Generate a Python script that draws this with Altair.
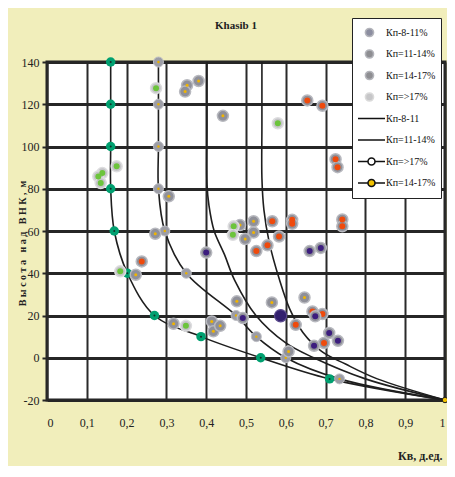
import altair as alt
import pandas as pd

# ---------------- scatter points (Kв, height) ----------------
kp8_11_x = [0.400, 0.660, 0.688, 0.492, 0.674, 0.709, 0.731, 0.671]
kp8_11_y = [49.8, 50.5, 52.0, 18.8, 19.6, 11.7, 8.0, 5.7]
kp8_11_dark_x = [0.587]
kp8_11_dark_y = [19.9]

kp11_14_x = [0.238, 0.654, 0.692, 0.725, 0.730, 0.566, 0.616, 0.616, 0.583,
             0.526, 0.554, 0.742, 0.742, 0.625, 0.667, 0.692, 0.696]
kp11_14_y = [45.6, 121.8, 119.3, 94.0, 90.2, 64.6, 65.3, 63.4, 57.4,
             50.5, 53.2, 65.5, 62.2, 15.6, 21.9, 20.7, 7.0]

kp14_17_x = [0.352, 0.347, 0.381, 0.442, 0.306, 0.272, 0.485, 0.519, 0.519, 0.498,
             0.223, 0.477, 0.565, 0.647, 0.318, 0.414, 0.418, 0.435, 0.607]
kp14_17_y = [129.0, 126.0, 131.0, 114.5, 76.4, 58.7, 62.8, 64.6, 59.3, 56.2,
             39.3, 26.7, 26.2, 28.5, 16.1, 17.2, 12.5, 15.1, 3.0]

kp17_x = [0.274, 0.175, 0.139, 0.129, 0.135, 0.469, 0.467, 0.580, 0.184, 0.349]
kp17_y = [127.6, 90.6, 87.4, 85.8, 82.7, 62.2, 58.2, 111.0, 40.9, 15.1]

# ---------------- model curves ----------------
curve_8_11_x = [0.540, 0.540, 0.540, 0.545, 0.558, 0.584, 0.610, 0.643, 0.690, 0.750, 0.830, 1.000]
curve_8_11_y = [140, 110, 85, 70, 55, 37, 23, 12, 3, -3, -10, -20]
curve_11_14_x = [0.402, 0.402, 0.402, 0.407, 0.420, 0.446, 0.471, 0.525, 0.600, 0.670, 0.800, 1.000]
curve_11_14_y = [140, 110, 82, 72, 60, 48.8, 36.9, 20, 7, 0, -10, -20]
curve_14_17_x = [0.280, 0.280, 0.280, 0.280, 0.296, 0.350, 0.475, 0.526, 0.600, 0.735, 1.000]
curve_14_17_y = [140, 120, 100, 80, 60, 40, 20, 10, 0, -10, -20]
curve_17_x = [0.160, 0.160, 0.160, 0.160, 0.169, 0.202, 0.270, 0.387, 0.537, 0.710, 1.000]
curve_17_y = [140, 120, 100, 80, 60, 40, 20, 10, 0, -10, -20]

x_ticks = [0, 0.1, 0.2, 0.3, 0.4, 0.5, 0.6, 0.7, 0.8, 0.9, 1.0]
y_ticks = [-20, 0, 20, 40, 60, 80, 100, 120, 140]

legend_labels = ["Кп-8-11%", "Кп=11-14%", "Кп=14-17%", "Кп=>17%",
                 "Кп-8-11", "Кп=11-14% ", "Кп=>17% ", "Кп=14-17% "]

SERIF = "Liberation Serif"
NB = "\u00a0"
y_title = NB.join("Высота") + NB * 3 + NB.join("над") + NB * 3 + NB.join("ВНК,") + NB * 2 + "м"

X = alt.X("x:Q", scale=alt.Scale(domain=[0, 1], nice=False, zero=False),
          axis=alt.Axis(values=x_ticks, grid=True, gridColor="#2a2a2a", gridWidth=2,
                        gridOpacity=1, domain=False, ticks=False, labelPadding=17,
                        labelFont=SERIF, labelFontSize=12, labelColor="#222",
                        labelExpr="datum.value == 0 ? '0' : datum.value == 1 ? '1' : replace(format(datum.value, '.1f'), '.', ',')",
                        title="Кв, д.ед.", titleFont=SERIF, titleFontSize=12,
                        titleFontWeight="bold", titleColor="#222", titleX=395, titleY=55,
                        titleAlign="right", titleBaseline="middle"))
Y = alt.Y("y:Q", scale=alt.Scale(domain=[-20, 140], nice=False, zero=False),
          axis=alt.Axis(values=y_ticks, grid=True, gridColor="#262626", gridWidth=3,
                        gridOpacity=1, domain=False, ticks=True, tickSize=5, tickWidth=2,
                        tickColor="#262626", labelPadding=3,
                        labelFont=SERIF, labelFontSize=12, labelColor="#222",
                        labelExpr="'' + datum.value",
                        title=y_title, titleFont=SERIF,
                        titleFontSize=10, titleFontWeight="bold", titleColor="#222",
                        titleAngle=270, titleX=-25, titleY=181, titleAlign="center",
                        titleBaseline="middle"))


def df(xs, ys):
    return pd.DataFrame({"x": xs, "y": ys})


def curve_df(xs, ys):
    return pd.DataFrame({"x": xs, "y": ys, "i": list(range(len(xs)))})


def scatter(xs, ys, halo, edge, center, csize):
    d = df(xs, ys)
    h = alt.Chart(d).mark_circle(size=121, color=halo, stroke=edge, strokeWidth=1.5,
                                 opacity=1).encode(x=X, y=Y)
    c = alt.Chart(d).mark_circle(size=csize, color=center, opacity=1).encode(x=X, y=Y)
    return [h, c]


layers = []

# curves
for cx, cy in [(curve_8_11_x, curve_8_11_y), (curve_11_14_x, curve_11_14_y),
               (curve_14_17_x, curve_14_17_y), (curve_17_x, curve_17_y)]:
    layers.append(
        alt.Chart(curve_df(cx, cy)).mark_line(color="#1e1e1e", strokeWidth=1.6,
                                               interpolate="catmull-rom").encode(
            x=X, y=Y, order=alt.Order("i:Q"))
    )

# curve markers (not on the common end point)
gray_m = curve_df(curve_14_17_x, curve_14_17_y)
green_m = curve_df(curve_17_x, curve_17_y)
layers.append(alt.Chart(gray_m).transform_filter("datum.y > -20").mark_circle(
    size=100, color="#9c9da6", stroke="#bfc0c6", strokeWidth=1, opacity=1).encode(x=X, y=Y))
layers.append(alt.Chart(gray_m).transform_filter("datum.y > -20").mark_circle(
    size=6, color="#e8b000", opacity=1).encode(x=X, y=Y))
layers.append(alt.Chart(green_m).transform_filter("datum.y > -20").mark_circle(
    size=90, color="#00a070", opacity=1).encode(x=X, y=Y))
layers.append(alt.Chart(green_m).transform_filter("datum.y > -20").mark_circle(
    size=4, color="#12302a", opacity=1).encode(x=X, y=Y))
layers.append(alt.Chart(gray_m).transform_filter("datum.y == -20").mark_circle(
    size=30, color="#f2c200", stroke="#222", strokeWidth=1, opacity=1).encode(x=X, y=Y))

# scatter
layers += scatter(kp14_17_x, kp14_17_y, "#8f9099", "#b8b9bf", "#f0b400", 9)
layers += scatter(kp17_x, kp17_y, "#c4c4c7", "#dddddf", "#6cc43c", 36)
layers += scatter(kp11_14_x, kp11_14_y, "#8f9099", "#b8b9bf", "#ef4a0c", 36)
layers += scatter(kp8_11_x, kp8_11_y, "#8f9099", "#b8b9bf", "#3c1d7e", 36)
layers.append(alt.Chart(df(kp8_11_dark_x, kp8_11_dark_y)).mark_circle(
    size=150, color="#33206e", stroke="#5a4a8c", strokeWidth=1.2, opacity=1).encode(x=X, y=Y))

# legend (built from a scale with explicit domain; no visible marks)
circ = "M0.15,0A0.3,0.3,0,1,1,-0.45,0A0.3,0.3,0,1,1,0.15,0Z"
line = "M-1,0L1,0"
line_circ = "M-1,0L-0.26,0M0.26,0A0.26,0.26,0,1,1,-0.26,0A0.26,0.26,0,1,1,0.26,0M0.26,0L1,0"
shapes = [circ, circ, circ, circ, line, line, line_circ, line_circ]
fills = ["#8c8ea0", "#8e8e92", "#8e8e92", "#c6c6c8", "transparent", "transparent", "white", "#f2c200"]
strokes = ["#b3b4ba", "#b3b4ba", "#b3b4ba", "#dadada", "#111111", "#111111", "#111111", "#111111"]

leg = alt.Legend(title=None, orient="none", legendX=305, legendY=-44, symbolSize=729,
                 clipHeight=19, rowPadding=2.5, labelFont=SERIF, labelFontSize=10,
                 labelColor="#111", fillColor="white", strokeColor="#222", padding=5,
                 labelOffset=0, symbolStrokeWidth=1.6, symbolOffset=0, labelLimit=0)

leg_df = pd.DataFrame({"k": legend_labels, "x": [0.5] * 8, "y": [0] * 8})
layers.append(
    alt.Chart(leg_df).transform_filter("false").mark_point(filled=False, opacity=1, size=729).encode(
        x=X, y=Y,
        shape=alt.Shape("k:N", scale=alt.Scale(domain=legend_labels, range=shapes), legend=leg),
        fill=alt.Fill("k:N", scale=alt.Scale(domain=legend_labels, range=fills), legend=leg),
        stroke=alt.Stroke("k:N", scale=alt.Scale(domain=legend_labels, range=strokes), legend=leg),
    )
)

chart = alt.layer(*layers).properties(
    width=398, height=338,
    title=alt.TitleParams("Khasib 1", font=SERIF, fontSize=11, fontWeight="bold", color="#222",
                          anchor="middle", frame="group", offset=0, baseline="middle", dx=-10, dy=19),
    padding={"left": 39, "top": 54, "right": 2, "bottom": 66},
    autosize=alt.AutoSizeParams(type="none"),
    background="#f1eebb",
).configure_view(fill="white", stroke="#222", strokeWidth=3)

chart.save("out.html", embed_options={"renderer": "svg", "actions": False})
